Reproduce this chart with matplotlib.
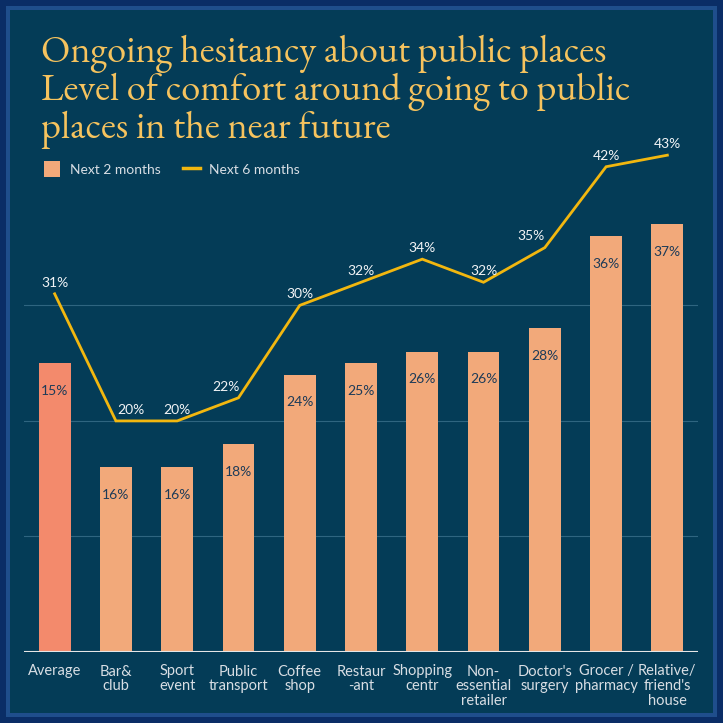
import matplotlib.pyplot as plt
from matplotlib.patches import Rectangle
from matplotlib.lines import Line2D

categories = ['Average', 'Bar&\nclub', 'Sport\nevent', 'Public\ntransport',
              'Coffee\nshop', 'Restaur\n-ant', 'Shopping\ncentr',
              'Non-\nessential\nretailer', "Doctor's\nsurgery",
              'Grocer /\npharmacy', "Relative/\nfriend's\nhouse"]
next_2_months = [25, 16, 16, 18, 24, 25, 26, 26, 28, 36, 37]
next_2_labels = ['15%', '16%', '16%', '18%', '24%', '25%', '26%', '26%',
                 '28%', '36%', '37%']
next_6_months = [31, 20, 20, 22, 30, 32, 34, 32, 35, 42, 43]

BG = '#043c57'
BAR = '#f2a97a'
BAR_AVG = '#f38a6c'
GOLD = '#f2b70f'
TITLE = '#f6c35e'
LIGHT = '#d8dee4'
SANS = ['Lato', 'DejaVu Sans']

fig = plt.figure(figsize=(7.23, 7.23), dpi=100)
fig.patch.set_facecolor('#0a2d66')
# frame: light strip then panel
fig.add_artist(Rectangle((6 / 723, 6 / 723), 711 / 723, 711 / 723,
                         transform=fig.transFigure, facecolor='#1f4e8c',
                         edgecolor='none', zorder=0))
fig.add_artist(Rectangle((10 / 723, 10 / 723), 703 / 723, 703 / 723,
                         transform=fig.transFigure, facecolor=BG,
                         edgecolor='none', zorder=0))

ax = fig.add_axes([24 / 723, 1 - 652 / 723, 674 / 723, (652 - 128.6) / 723])
ax.set_facecolor('none')

x = list(range(len(categories)))
colors = [BAR_AVG] + [BAR] * (len(categories) - 1)
ax.bar(x, next_2_months, width=0.52, color=colors, zorder=2)
ax.plot(x, next_6_months, color=GOLD, linewidth=2, zorder=3,
        solid_joinstyle='miter', clip_on=False)

# bar labels
for xi, v, lab in zip(x, next_2_months, next_2_labels):
    ax.annotate(lab, (xi, v), xytext=(0, -20), textcoords='offset points',
                ha='center', va='center', color='#1d3b58', fontsize=10,
                family=SANS, zorder=4)

# line labels (some nudged sideways as in the source)
nudge = {1: 11, 3: -9, 8: -10}
for xi, v in zip(x, next_6_months):
    ax.annotate('%d%%' % v, (xi, v), xytext=(nudge.get(xi, 0), 8),
                textcoords='offset points', ha='center', va='center',
                color='#f2f4f6', fontsize=10, family=SANS, zorder=4,
                annotation_clip=False)

ax.set_xlim(-0.5, len(categories) - 0.5)
ax.set_ylim(0, 45.3)
for g in [10, 20, 30]:
    ax.axhline(g, color='#2f6580', linewidth=0.8, zorder=1)
ax.axhline(0, color='#e6e6e6', linewidth=1.5, zorder=3)

ax.set_yticks([])
ax.set_xticks(x)
ax.set_xticklabels(categories, color=LIGHT, fontsize=10.5, family=SANS,
                   linespacing=1.05)
ax.tick_params(axis='x', length=0, pad=9)
for s in ax.spines.values():
    s.set_visible(False)

fig.text(41 / 723, 1 - 35 / 723,
         'Ongoing hesitancy about public places\n'
         'Level of comfort around going to public\n'
         'places in the near future',
         ha='left', va='top', color=TITLE, fontsize=27.6,
         family=['EB Garamond', 'Liberation Serif', 'DejaVu Serif'],
         linespacing=0.99)

handles = [Rectangle((0, 0), 1, 1, facecolor=BAR, edgecolor='none'),
           Line2D([0], [0], color=GOLD, linewidth=2.5)]
leg = fig.legend(handles, ['Next 2 months', 'Next 6 months'],
                 loc='center left', bbox_to_anchor=(31 / 723, 1 - 169 / 723),
                 ncol=2, frameon=False, handlelength=1.2,
                 handleheight=1.3, columnspacing=1.6, handletextpad=0.7,
                 prop={'family': SANS, 'size': 10})
for t in leg.get_texts():
    t.set_color(LIGHT)

fig.savefig('out.png', dpi=100, facecolor=fig.get_facecolor())
